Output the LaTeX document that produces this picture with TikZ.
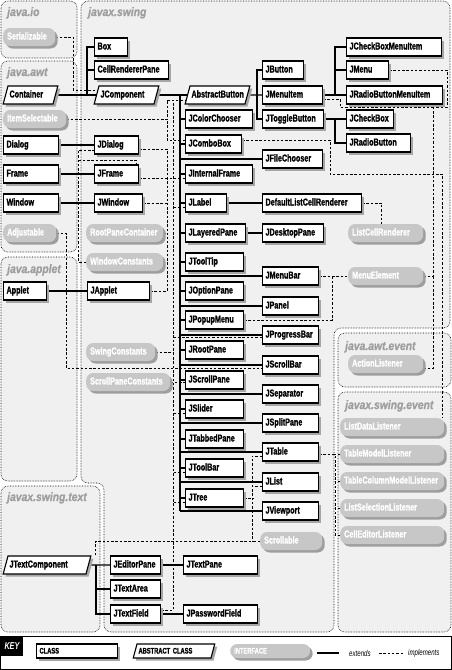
\documentclass[tikz,border=0pt]{standalone}
\usepackage{fontspec}
\setmainfont{Liberation Sans}
\newfontfamily\boxfont{Liberation Sans}[FakeStretch=0.72, BoldFeatures={FakeBold=1.2}]
\newfontfamily\pkgfont{Liberation Sans}[FakeStretch=0.85, BoldItalicFeatures={FakeBold=0.8}]
\usetikzlibrary{shapes.geometric,shadows}

\pgfdeclarelayer{pkgs}
\pgfdeclarelayer{wires}
\pgfsetlayers{pkgs,wires,main}

\newcommand{\nodefont}{\boxfont\bfseries\fontsize{10}{12}\selectfont\hyphenpenalty=10000 }
\newcommand{\keyfont}{\boxfont\bfseries\fontsize{8}{10}\selectfont\hyphenpenalty=10000 }

\tikzset{
  cls/.style={draw, line width=1.1pt, fill=white, font=\nodefont,
    text height=7pt, text depth=2pt, inner xsep=3pt, inner ysep=4.5pt,
    text width=#1, align=left, anchor=west,
    drop shadow={shadow xshift=2.5pt, shadow yshift=-2.5pt, fill=black!35, opacity=1}},
  abst/.style={cls=#1, shape=trapezium, trapezium left angle=75,
    trapezium right angle=105, trapezium stretches=true, inner xsep=1.5pt, anchor=center},
  iface/.style={fill=black!22, text=white, rounded corners=7pt, font=\nodefont,
    text height=7pt, text depth=2pt, inner xsep=4pt, inner ysep=4.5pt,
    text width=#1, align=left, anchor=west,
    drop shadow={shadow xshift=2.5pt, shadow yshift=-2.5pt, fill=black!38, opacity=1}},
  ext/.style={line width=1.1pt},
  impl/.style={line width=0.6pt, dash pattern=on 2.5pt off 1.8pt},
  pkg/.style={draw, densely dotted, line width=0.6pt, rounded corners=7pt, fill=black!6},
  pkgname/.style={anchor=base west, inner sep=0pt, text=black!38,
    font=\pkgfont\bfseries\itshape\fontsize{12.2}{14}\selectfont},
  keytxt/.style={anchor=west, inner ysep=0pt, font=\boxfont\itshape\fontsize{8.5}{10}\selectfont},
}

\begin{document}
\begin{tikzpicture}[x=1pt,y=-1pt]
  \useasboundingbox (0,0) rectangle (452,670);

  % java.io / java.awt / java.applet
  \node[iface=44pt] (ser) at (3,37) {Serializable};
  \node[abst=42pt] (container) at (30.5,95) {Container};
  \node[iface=55pt] (itemsel) at (3,119) {ItemSelectable};
  \node[cls=49pt] (dialog) at (3,145) {Dialog};
  \node[cls=49pt] (frame) at (3,174) {Frame};
  \node[cls=49pt] (window) at (3,203) {Window};
  \node[iface=45pt] (adjust) at (3,233) {Adjustable};
  \node[cls=37pt] (applet) at (3,291) {Applet};

  % javax.swing, left part
  \node[cls=27pt] (box) at (94,47) {Box};
  \node[cls=68pt] (crpane) at (94,70) {CellRendererPane};
  \node[abst=52pt] (jcomp) at (126.5,95) {JComponent};
  \node[cls=38pt] (jdialog) at (94,145) {JDialog};
  \node[cls=38pt] (jframe) at (94,174) {JFrame};
  \node[cls=42pt] (jwindow) at (94,203) {JWindow};
  \node[iface=69pt] (rpc) at (86,233) {RootPaneContainer};
  \node[iface=69pt] (wconst) at (86,262) {WindowConstants};
  \node[cls=56pt] (japplet) at (87,291) {JApplet};
  \node[iface=61pt] (swconst) at (86,352) {SwingConstants};
  \node[iface=76pt] (spconst) at (86,382) {ScrollPaneConstants};

  % javax.swing, middle column
  \node[abst=52pt] (absbtn) at (217.5,95) {AbstractButton};
  \node[cls=61pt] (jcolor) at (185,119) {JColorChooser};
  \node[cls=50pt] (jcombo) at (185,144) {JComboBox};
  \node[cls=61pt] (jintframe) at (185,174) {JInternalFrame};
  \node[cls=35pt] (jlabel) at (185,203) {JLabel};
  \node[cls=54pt] (jlayered) at (185,233) {JLayeredPane};
  \node[cls=52pt] (jtooltip) at (185,262) {JToolTip};
  \node[cls=52pt] (joption) at (185,291) {JOptionPane};
  \node[cls=52pt] (jpopup) at (185,320) {JPopupMenu};
  \node[cls=52pt] (jrootpane) at (185,350) {JRootPane};
  \node[cls=52pt] (jscrollpane) at (185,380) {JScrollPane};
  \node[cls=52pt] (jslider) at (185,409) {JSlider};
  \node[cls=52pt] (jtabbed) at (185,439) {JTabbedPane};
  \node[cls=52pt] (jtoolbar) at (185,468) {JToolBar};
  \node[cls=52pt] (jtree) at (185,498) {JTree};

  % javax.swing, right column
  \node[cls=35pt] (jbutton) at (262,70) {JButton};
  \node[cls=54pt] (jmenuitem) at (262,95) {JMenuItem};
  \node[cls=55pt] (jtoggle) at (262,119) {JToggleButton};
  \node[cls=54pt] (jfile) at (262,159) {JFileChooser};
  \node[cls=93pt] (dlcr) at (262,203) {DefaultListCellRenderer};
  \node[cls=55pt] (jdesktop) at (262,233) {JDesktopPane};
  \node[cls=50pt] (jmenubar) at (262,276) {JMenuBar};
  \node[cls=50pt] (jpanel) at (262,306) {JPanel};
  \node[cls=50pt] (jprogress) at (262,335) {JProgressBar};
  \node[cls=50pt] (jscrollbar) at (262,365) {JScrollBar};
  \node[cls=50pt] (jsep) at (262,394) {JSeparator};
  \node[cls=50pt] (jsplit) at (262,423) {JSplitPane};
  \node[cls=50pt] (jtable) at (262,452) {JTable};
  \node[cls=50pt] (jlist) at (262,482) {JList};
  \node[cls=50pt] (jviewport) at (262,511) {JViewport};
  \node[iface=54pt] (scrollable) at (260,541) {Scrollable};

  \node[cls=89pt] (jcbmi) at (346,47) {JCheckBoxMenuItem};
  \node[cls=36pt] (jmenu) at (346,70) {JMenu};
  \node[cls=90pt] (jrbmi) at (346,95) {JRadioButtonMenuItem};
  \node[cls=41pt] (jcheckbox) at (346,119) {JCheckBox};
  \node[cls=58pt] (jradio) at (346,143) {JRadioButton};
  \node[iface=67pt] (lcr) at (348,233) {ListCellRenderer};
  \node[iface=67pt] (menuel) at (348,276) {MenuElement};

  % java.awt.event / javax.swing.event
  \node[iface=67pt] (actlis) at (348,364) {ActionListener};
  \node[iface=96pt] (listdata) at (340,427) {ListDataListener};
  \node[iface=96pt] (tablemodel) at (340,454) {TableModelListener};
  \node[iface=96pt] (tablecol) at (340,481) {TableColumnModelListener};
  \node[iface=96pt] (listsel) at (340,508) {ListSelectionListener};
  \node[iface=96pt] (celled) at (340,535) {CellEditorListener};

  % javax.swing.text
  \node[abst=75pt] (jtextcomp) at (47,565) {JTextComponent};
  \node[cls=44pt] (jeditor) at (110,565) {JEditorPane};
  \node[cls=44pt] (jtextarea) at (110,589) {JTextArea};
  \node[cls=44pt] (jtextfield) at (110,614) {JTextField};
  \node[cls=68pt] (jtextpane) at (183,565) {JTextPane};
  \node[cls=68pt] (jpassword) at (183,614) {JPasswordField};

  % package areas
  \begin{pgfonlayer}{pkgs}
    \draw[pkg] (1,1) rectangle (77,58);
    \draw[pkg] (1,61) rectangle (77,252);
    \draw[pkg] (1,257) rectangle (77,481);
    \draw[pkg] (1,486) rectangle (100,632);
    \draw[pkg] (81,1) -- (450,1) -- (450,328) -- (334,328) -- (334,632)
      -- (104,632) -- (104,483) -- (81,483) -- cycle;
    \draw[pkg] (338,333) rectangle (451,387);
    \draw[pkg] (338,392) rectangle (451,632);
  \end{pgfonlayer}
  \node[pkgname] (lio) at (7,16) {java.io};
  \node[pkgname] (lswing) at (88,16) {javax.swing};
  \node[pkgname] (lawt) at (7,76) {java.awt};
  \node[pkgname] (lapplet) at (7,273) {java.applet};
  \node[pkgname] (lawtev) at (345,350) {java.awt.event};
  \node[pkgname] (lswev) at (345,409) {javax.swing.event};
  \node[pkgname] (ltext) at (7,501) {javax.swing.text};

  \begin{pgfonlayer}{wires}
    % extends
    \coordinate (cbus) at (87,95);
    \draw[ext] (container.east) -- (jcomp.west);
    \draw[ext] (box.west) -| (cbus);
    \draw[ext] (crpane.west) -| (cbus);
    \draw[ext] (dialog.east) -- (jdialog.west);
    \draw[ext] (frame.east) -- (jframe.west);
    \draw[ext] (window.east) -- (jwindow.west);
    \draw[ext] (applet.east) -- (japplet.west);

    \coordinate (trunk) at (180,95);
    \draw[ext] (jcomp.east) -- (absbtn.west);
    \draw[ext] (trunk) -- (trunk |- jviewport.west);
    \foreach \n in {jcolor,jcombo,jintframe,jlabel,jlayered,jtooltip,joption,
        jpopup,jrootpane,jscrollpane,jslider,jtabbed,jtoolbar,jtree,jfile,
        jmenubar,jpanel,jprogress,jscrollbar,jsep,jsplit,jtable,jlist,jviewport}
      \draw[ext] (\n.west) -- (\n.west -| trunk);
    \draw[ext] (jlabel.east) -- (dlcr.west);
    \draw[ext] (jlayered.east) -- (jdesktop.west);

    \coordinate (abus) at (257,95);
    \draw[ext] (absbtn.east) -- (jmenuitem.west);
    \draw[ext] (jbutton.west) -| (abus);
    \draw[ext] (jtoggle.west) -| (abus);
    \coordinate (mbus) at (335,95);
    \draw[ext] (jmenuitem.east) -- (jrbmi.west);
    \draw[ext] (jcbmi.west) -| (mbus);
    \draw[ext] (jmenu.west) -| (mbus);
    \coordinate (gbus) at (335,119);
    \draw[ext] (jtoggle.east) -- (jcheckbox.west);
    \draw[ext] (jradio.west) -| (gbus);

    \coordinate (tbus) at (96,565);
    \draw[ext] (jtextcomp.east) -- (jeditor.west);
    \draw[ext] (jtextarea.west) -| (tbus);
    \draw[ext] (jtextfield.west) -| (tbus);
    \draw[ext] (jeditor.east) -- (jtextpane.west);
    \draw[ext] (jtextfield.east) -- (jpassword.west);

    % implements
    \coordinate (serb) at (73,90);
    \draw[impl] (ser.east) -| (serb) -- (serb -| jcomp.west);

    \coordinate (isb) at (167,119);
    \draw[impl] (itemsel.east) -- (isb);
    \draw[impl] ([yshift=-5pt]absbtn.west) -| (isb);
    \draw[impl] ([yshift=4pt]jcombo.west) -| (isb);

    \coordinate (scb) at (173,352);
    \draw[impl] (swconst.east) -- (scb);
    \draw[impl] ([yshift=-5pt]absbtn.west) -| (scb);
    \draw[impl] ([yshift=4pt]jtextfield.east) -| (scb);
    \draw[impl] ([yshift=-4pt]jlabel.west) -- ++(-12,0);
    \draw[impl] ([yshift=-2pt]jprogress.west) -- ++(-89,0);
    \foreach \n in {jslider,jtoolbar,jtree}
      \draw[impl] ([yshift=-4pt]\n.west) -- ++(-12,0);

    \coordinate (rpb) at (167,233);
    \draw[impl] (rpc.east) -- (rpb);
    \draw[impl] ([yshift=-4pt]jdialog.east) -| (rpb);
    \draw[impl] (japplet.east) -| (rpb);
    \draw[impl] ([yshift=-4pt]jframe.east) -- ++(29,0);
    \draw[impl] (jwindow.east) -- ++(25,0);
    \draw[impl] ([yshift=-4pt]jintframe.west) -- ++(-18,0);

    \coordinate (wcb) at (78.5,150);
    \coordinate (wcf) at (78.5,160);
    \draw[impl] (wconst.west) -| (wcb) -- (wcb -| jdialog.west);
    \draw[impl] (wcf) -| ([xshift=-3pt]jframe.north east);

    \coordinate (adjb) at (66,368);
    \draw[impl] (adjust.east) -| (adjb) -- ([yshift=-3pt]jscrollbar.west);
    \draw[impl] (spconst.east) -- (spconst.east -| jscrollpane.west);

    \coordinate (cbb) at (330,174);
    \draw[impl] ([yshift=4pt]jcombo.east) -| (cbb) -| ([xshift=-2pt]listdata.north east);

    \coordinate (meb) at (433,107);
    \coordinate (mib) at (340,107);
    \coordinate (mjb) at (447,107);
    \draw[impl] ([yshift=-4pt]jmenuitem.east) -| (mib) -- (meb);
    \draw[impl] (jmenu.east) -| (mjb) -- (meb);
    \draw[impl] (menuel.east) -| (meb);
    \draw[impl] ([yshift=-4pt]actlis.east) -| (menuel.east -| meb);
    \coordinate (mbb) at (332,276);
    \draw[impl] (jmenubar.east) -- (menuel.west);
    \draw[impl] (jpopup.east) -| (mbb);
    \draw[impl] (dlcr.east) -| ([xshift=-4pt]lcr.north);

    \coordinate (tlb) at (335,454);
    \draw[impl] ([yshift=-2pt]jtable.east) -| (tlb);
    \draw[impl] (tablemodel.west) -- (tlb);
    \draw[impl] (celled.west) -| (tlb);
    \draw[impl] (tablecol.west) -- ++(-5,0);
    \draw[impl] (listsel.west) -- ++(-5,0);

    \coordinate (scrb) at (252,541);
    \draw[impl] (scrollable.west) -- (scrb);
    \draw[impl] ([yshift=-4pt]jtable.west) -| (scrb);
    \draw[impl] ([yshift=-4pt]jlist.west) -- ++(-10,0);
    \draw[impl] (jtree.east) -- ++(9,0);
    \draw[impl] ([xshift=4pt]jtextcomp.top right corner) |- (scrb);
  \end{pgfonlayer}

  % key
  \draw[line width=0.8pt, fill=white] (0.5,636) rectangle (451.5,669.5);
  \node[fill=black, text=white, anchor=north west, inner sep=0pt, minimum width=22.5pt,
    minimum height=20pt, font=\boxfont\bfseries\itshape\fontsize{10}{11}\selectfont]
    (keytag) at (0.5,636) {KEY};
  \node[cls=75pt, font=\keyfont, inner ysep=2.5pt] (kcls) at (36,651) {CLASS};
  \node[abst=71pt, font=\keyfont, inner ysep=2.5pt] (kabs) at (174,651) {ABSTRACT CLASS};
  \node[iface=72pt, font=\keyfont, inner ysep=2.5pt] (kif) at (230,651) {INTERFACE};
  \coordinate (kext) at (317,653);
  \node[keytxt, inner xsep=10pt] (kextl) at (339,653) {extends};
  \draw[ext] (kext) -- (kextl.west);
  \coordinate (kimp) at (379,653);
  \node[keytxt, inner xsep=5pt] (kimpl) at (403,653) {implements};
  \draw[impl] (kimp) -- (kimpl.west);
\end{tikzpicture}
\end{document}
